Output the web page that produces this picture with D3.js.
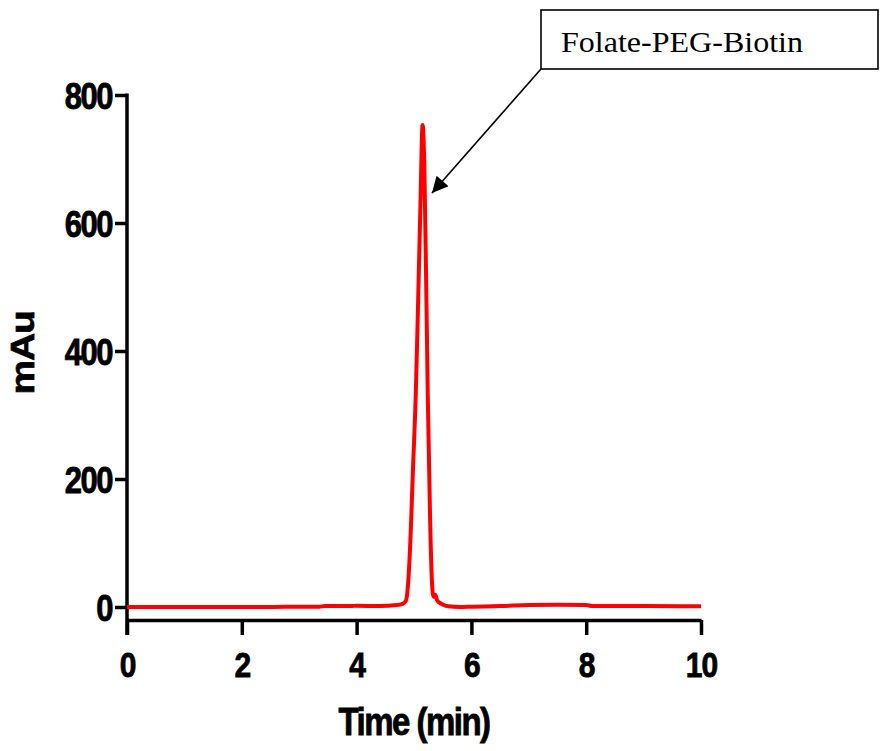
<!DOCTYPE html>
<html lang="en">
<head>
    <meta charset="utf-8">
    <title>Chromatogram</title>
    <script type="text/javascript" src="https://d3js.org/d3.v7.min.js"></script>
    <style>
        body { margin: 0; background: #fff; }
        .tick text, .axis-title {
            font-family: "Liberation Sans", Arial, sans-serif;
            font-weight: bold;
            fill: #000;
            stroke: #000;
            stroke-width: 0.7;
        }
        .trace {
            fill: none;
            stroke: #ff0000;
            stroke-width: 4;
            stroke-linejoin: round;
        }
    </style>
</head>
<body>
<div id="container"></div>
<script type="text/javascript">
    const w = 882;
    const h = 751;

    // retention time (min) and absorbance (mAu)
    const times  = [0, 0.5, 1, 1.5, 2, 2.5, 3, 3.35, 3.45, 3.9, 4.0, 4.4, 4.7, 4.8, 4.86, 4.9, 4.94, 4.98, 5.03, 5.07, 5.11, 5.15, 5.18, 5.21, 5.24, 5.28, 5.31, 5.34, 5.37, 5.4, 5.44, 5.5, 5.6, 5.8, 6.0, 6.5, 7.0, 7.5, 8.0, 8.1, 9.0, 10.0];
    const values = [0, 0, 0, 0, 0, 0, 0.5, 0.5, 1.5, 1.5, 2, 1.5, 3, 5, 10, 40, 110, 210, 330, 470, 620, 753, 690, 520, 330, 140, 45, 16, 19, 11, 7, 4, 1, 0, 0.5, 1.5, 3, 3.5, 3, 1.5, 1.5, 1];
    const xTicks = [0, 2, 4, 6, 8, 10];
    const yTicks = [0, 200, 400, 600, 800];
    const peakLabel = "Folate-PEG-Biotin";

    const svg = d3.select("div#container").append("svg")
        .attr("width", w)
        .attr("height", h);

    const x = d3.scaleLinear().domain([0, 10]).range([127, 701]);
    const y = d3.scaleLinear().domain([0, 800]).range([607, 95]);
    const xAxisY = 620;
    const stretch = 1.18; // the picture is a bit taller than the fonts

    // x axis
    const gx = svg.append("g")
        .attr("transform", "translate(0," + xAxisY + ")")
        .call(d3.axisBottom(x).tickValues(xTicks).tickFormat(d3.format("d")).tickSize(15).tickSizeOuter(0).tickPadding(12));
    gx.select(".domain").attr("stroke-width", 3.5);
    gx.selectAll(".tick line").attr("stroke-width", 3.5);
    gx.selectAll(".tick text")
        .attr("font-size", 30)
        .attr("letter-spacing", -1)
        .attr("transform", "scale(1," + stretch + ")");

    // y axis
    const gy = svg.append("g")
        .attr("transform", "translate(127,0)")
        .call(d3.axisLeft(y).tickValues(yTicks).tickFormat(d3.format("d")).tickSize(12).tickSizeOuter(0).tickPadding(3));
    gy.select(".domain").remove();
    gy.append("line")
        .attr("x1", 0).attr("x2", 0)
        .attr("y1", y(800) - 1.5).attr("y2", xAxisY + 15)
        .attr("stroke", "#000").attr("stroke-width", 3.5);
    gy.selectAll(".tick line").attr("stroke-width", 3.5);
    gy.selectAll(".tick text")
        .attr("font-size", 31)
        .attr("letter-spacing", -1.5)
        .attr("dy", "0.36em")
        .attr("transform", "scale(1," + stretch + ")");

    // axis titles
    svg.append("text")
        .attr("class", "axis-title")
        .attr("text-anchor", "middle")
        .attr("font-size", 33)
        .attr("letter-spacing", -1.5)
        .attr("transform", "translate(414,735) scale(1," + stretch + ")")
        .text("Time (min)");

    svg.append("text")
        .attr("class", "axis-title")
        .attr("text-anchor", "middle")
        .attr("font-size", 33)
        .attr("letter-spacing", -1)
        .attr("transform", "translate(34,353) rotate(-90) scale(" + stretch + ",1)")
        .text("mAu");

    // trace
    const line = d3.line()
        .x(function (d, i) { return x(times[i]); })
        .y(function (d) { return y(d); })
        .curve(d3.curveMonotoneX);

    svg.append("path")
        .datum(values)
        .attr("class", "trace")
        .attr("d", line);

    // annotation
    svg.append("defs").append("marker")
        .attr("id", "arrow")
        .attr("viewBox", "0 0 10 10")
        .attr("refX", 10).attr("refY", 5)
        .attr("markerWidth", 22).attr("markerHeight", 16)
        .attr("markerUnits", "userSpaceOnUse")
        .attr("orient", "auto")
        .append("path")
        .attr("d", "M0,0 L10,5 L0,10 Z")
        .attr("fill", "#000");

    svg.append("line")
        .attr("x1", 541).attr("y1", 69)
        .attr("x2", 432).attr("y2", 193)
        .attr("stroke", "#000").attr("stroke-width", 1.6)
        .attr("marker-end", "url(#arrow)");

    svg.append("rect")
        .attr("x", 541).attr("y", 10)
        .attr("width", 337).attr("height", 59)
        .attr("fill", "#fff")
        .attr("stroke", "#000").attr("stroke-width", 1.6);

    svg.append("text")
        .attr("x", 561).attr("y", 52)
        .attr("font-family", "'Liberation Serif', 'DejaVu Serif', serif")
        .attr("font-size", 29)
        .attr("textLength", 242)
        .attr("lengthAdjust", "spacingAndGlyphs")
        .text(peakLabel);
</script>
</body>
</html>
